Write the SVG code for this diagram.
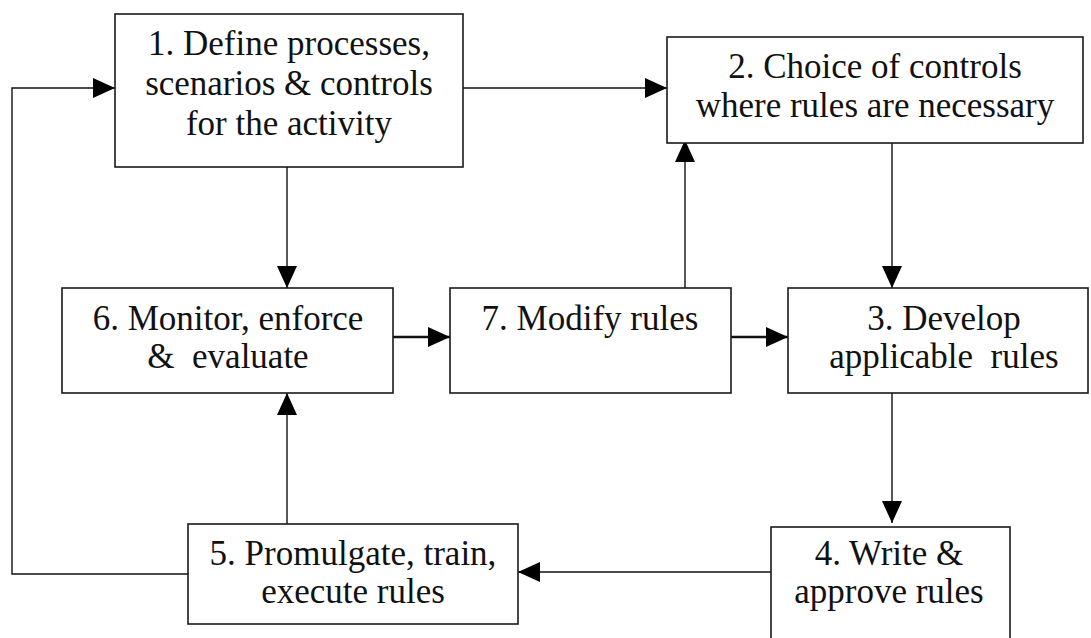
<svg xmlns="http://www.w3.org/2000/svg" width="1091" height="638" viewBox="0 0 1091 638">
  <style>
    .box { fill: #ffffff; stroke: #1a1a1a; stroke-width: 1.6; }
    .lbl { font-family: 'Liberation Serif', 'Times New Roman', 'DejaVu Serif', serif; font-size: 35px; fill: #111; text-anchor: middle; }
    .con { fill: none; stroke: #111; stroke-width: 1.4; }
    .thick { stroke-width: 2.6; }
  </style>
  <defs>
    <marker id="arr" viewBox="0 0 22 20" refX="22" refY="10" markerWidth="22" markerHeight="20" markerUnits="userSpaceOnUse" orient="auto">
      <path d="M0,0 L22,10 L0,20 Z" fill="#000"/>
    </marker>
  </defs>
  <rect width="1091" height="638" fill="#ffffff"/>

  <g id="connectors">
    <polyline class="con" points="188,574 12,574 12,88 115,88" marker-end="url(#arr)"/>
    <line class="con" x1="463" y1="88" x2="667" y2="88" marker-end="url(#arr)"/>
    <line class="con" x1="287" y1="167" x2="287" y2="288" marker-end="url(#arr)"/>
    <line class="con" x1="892" y1="143" x2="892" y2="288" marker-end="url(#arr)"/>
    <line class="con" x1="685" y1="288" x2="685" y2="140" marker-end="url(#arr)"/>
    <line class="con thick" x1="393" y1="337" x2="450" y2="337" marker-end="url(#arr)"/>
    <line class="con thick" x1="731" y1="337" x2="788" y2="337" marker-end="url(#arr)"/>
    <line class="con" x1="892" y1="393" x2="892" y2="523" marker-end="url(#arr)"/>
    <line class="con" x1="771" y1="572" x2="518" y2="572" marker-end="url(#arr)"/>
    <line class="con" x1="287" y1="524" x2="287" y2="393" marker-end="url(#arr)"/>
  </g>

  <g id="node1">
    <rect class="box" x="115" y="14" width="348" height="153"/>
    <text class="lbl" font-family="Liberation Serif, serif" x="289" y="55">1. Define processes,</text>
    <text class="lbl" font-family="Liberation Serif, serif" x="289" y="95">scenarios &amp; controls</text>
    <text class="lbl" font-family="Liberation Serif, serif" x="289" y="135">for the activity</text>
  </g>

  <g id="node2">
    <rect class="box" x="667" y="37" width="416" height="106"/>
    <text class="lbl" x="875" y="78">2. Choice of controls</text>
    <text class="lbl" x="875" y="117">where rules are necessary</text>
  </g>

  <g id="node3">
    <rect class="box" x="788" y="288" width="300" height="105"/>
    <text class="lbl" x="944" y="330">3. Develop</text>
    <text class="lbl" x="944" y="368" xml:space="preserve">applicable  rules</text>
  </g>

  <g id="node4">
    <rect class="box" x="771" y="527" width="239" height="130"/>
    <text class="lbl" x="889" y="565">4. Write &amp;</text>
    <text class="lbl" x="889" y="603">approve rules</text>
  </g>

  <g id="node5">
    <rect class="box" x="188" y="524" width="330" height="100"/>
    <text class="lbl" x="353" y="565">5. Promulgate, train,</text>
    <text class="lbl" x="353" y="603">execute rules</text>
  </g>

  <g id="node6">
    <rect class="box" x="62" y="288" width="331" height="105"/>
    <text class="lbl" x="228" y="330">6. Monitor, enforce</text>
    <text class="lbl" x="228" y="368" xml:space="preserve">&amp;  evaluate</text>
  </g>

  <g id="node7">
    <rect class="box" x="450" y="288" width="281" height="105"/>
    <text class="lbl" x="590" y="330">7. Modify rules</text>
  </g>
</svg>
